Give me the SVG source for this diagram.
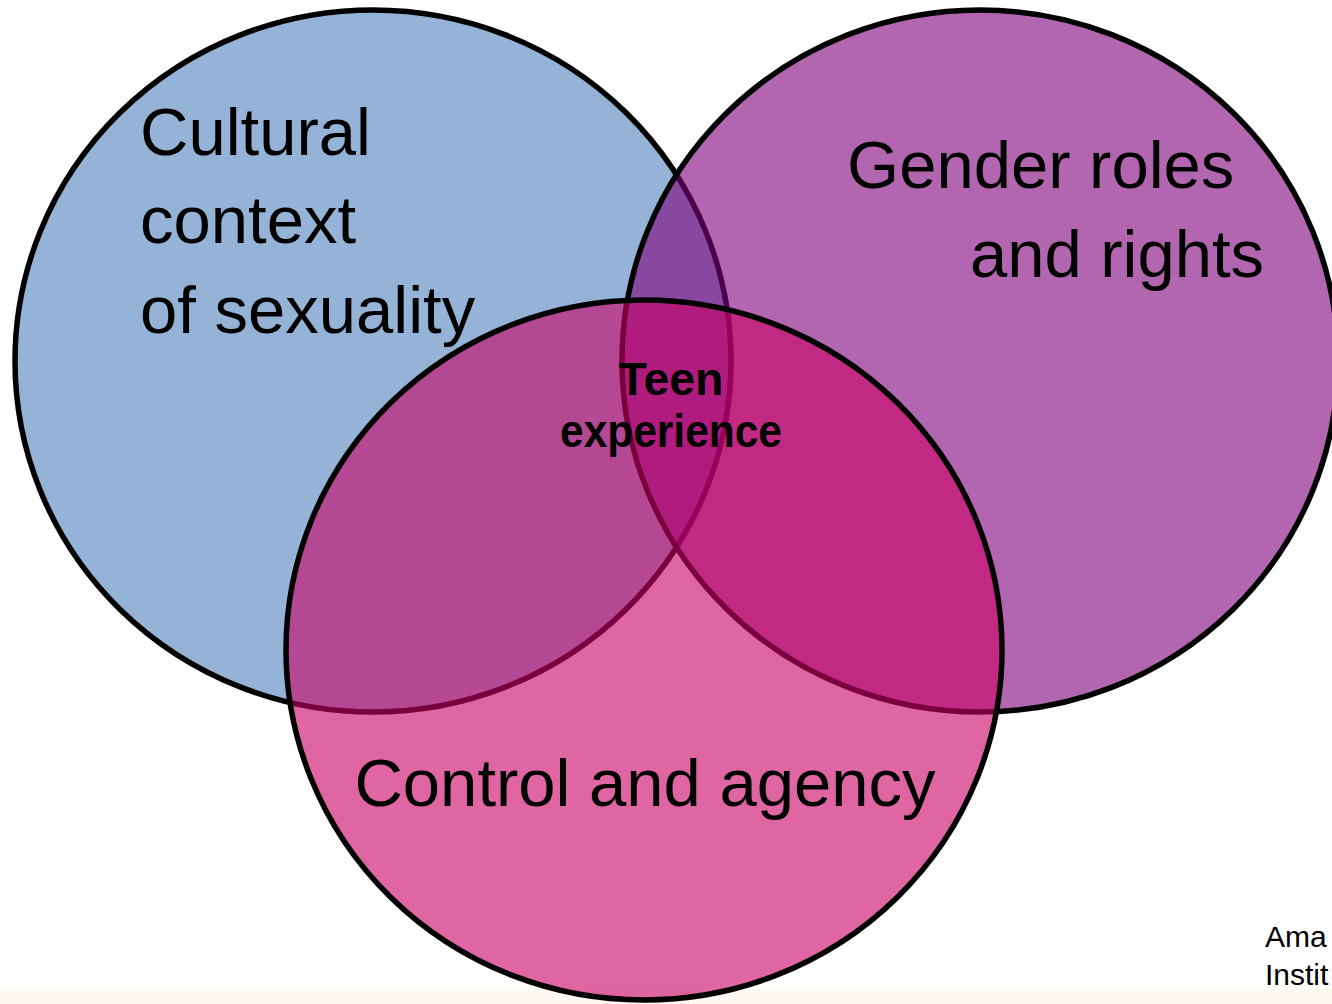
<svg xmlns="http://www.w3.org/2000/svg" width="1332" height="1004" viewBox="0 0 1332 1004">
  <style>
    .ring { stroke: #000000; stroke-width: 5.5; }
    .big { font-family: "Liberation Sans", Arial, sans-serif; font-size: 67px; fill: #000000; }
    .center { font-family: "Liberation Sans", Arial, sans-serif; font-weight: bold; font-size: 46px; fill: #000000; text-anchor: middle; }
    .credit { font-family: "Liberation Sans", Arial, sans-serif; font-size: 30px; fill: #000000; }
  </style>
  <rect x="0" y="0" width="1332" height="1004" fill="#FFFFFF"/>
  <rect x="0" y="989" width="1332" height="15" fill="#FDF8F2"/>

  <g id="node-cultural">
    <ellipse class="ring" cx="373" cy="361" rx="358" ry="351" fill="#95B3D7"/>
  </g>
  <g id="node-gender">
    <ellipse class="ring" cx="980" cy="361" rx="358" ry="351" fill="#80007B" fill-opacity="0.6"/>
  </g>
  <g id="node-control">
    <ellipse class="ring" cx="644" cy="650" rx="358" ry="350" fill="#CB0066" fill-opacity="0.6"/>
  </g>

  <g id="connectors"></g>

  <g id="labels">
    <text id="label-cultural" class="big">
      <tspan x="140" y="155">Cultural</tspan>
      <tspan x="140" y="243">context</tspan>
      <tspan x="140" y="333">of sexuality</tspan>
    </text>
    <text id="label-gender" class="big" text-anchor="middle">
      <tspan x="1050" y="188">Gender roles</tspan>
      <tspan x="1117" y="277">and rights</tspan>
    </text>
    <text id="label-control" class="big" text-anchor="middle" x="645" y="806">Control and agency</text>
    <g id="node-teen">
      <text class="center" x="671" y="395" textLength="105" lengthAdjust="spacingAndGlyphs">Teen</text>
      <text class="center" x="671" y="447" textLength="222" lengthAdjust="spacingAndGlyphs">experience</text>
    </g>
    <text id="credit" class="credit">
      <tspan x="1265" y="947">Ama</tspan>
      <tspan x="1265" y="985">Instit</tspan>
    </text>
  </g>
</svg>
